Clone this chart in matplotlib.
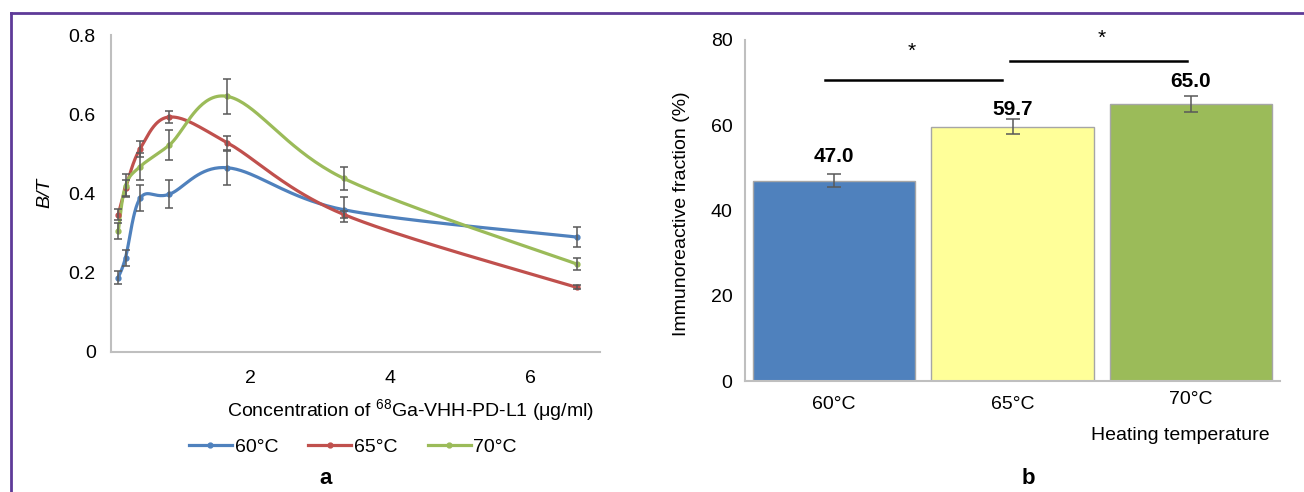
import numpy as np
import matplotlib
matplotlib.use("Agg")
import matplotlib.pyplot as plt
from matplotlib.lines import Line2D

plt.rcParams['font.family'] = ['Liberation Sans', 'DejaVu Sans']
plt.rcParams['mathtext.default'] = 'regular'

# ---------------- data ----------------
# panel a: binding B/T vs concentration, three heating temperatures
conc = [0.104, 0.208, 0.417, 0.833, 1.667, 3.333, 6.667]
bt_60 = [0.188, 0.238, 0.388, 0.398, 0.465, 0.359, 0.290]
err_60 = [0.016, 0.020, 0.033, 0.035, 0.043, 0.031, 0.026]
bt_65 = [0.347, 0.413, 0.513, 0.593, 0.528, 0.347, 0.163]
err_65 = [0.015, 0.020, 0.020, 0.016, 0.017, 0.010, 0.005]
bt_70 = [0.305, 0.420, 0.468, 0.522, 0.645, 0.438, 0.222]
err_70 = [0.021, 0.028, 0.033, 0.037, 0.045, 0.030, 0.016]
series_names = ['60°C', '65°C', '70°C']

# panel b: immunoreactive fraction
temps = ['60°C', '65°C', '70°C']
fraction = [47.0, 59.7, 65.0]
fraction_err = [1.45, 1.8, 1.95]

line_colors = ['#4F81BD', '#C0504D', '#9BBB59']
bar_colors = ['#4F81BD', '#FFFF99', '#9BBB59']
axis_gray = '#BFBFBF'
err_gray = '#595959'
fs = 14


def smooth(x, y, n=40):
    # excel-like smoothed line (catmull-rom as bezier)
    pts = np.column_stack([x, y])
    P = np.vstack([pts[0], pts, pts[-1]])
    out = []
    t = np.linspace(0, 1, n)[:, None]
    for i in range(1, len(P) - 2):
        p0, p1, p2, p3 = P[i - 1], P[i], P[i + 1], P[i + 2]
        c1 = p1 + (p2 - p0) / 6
        c2 = p2 - (p3 - p1) / 6
        seg = (1 - t)**3 * p1 + 3 * (1 - t)**2 * t * c1 + 3 * (1 - t) * t**2 * c2 + t**3 * p2
        out.append(seg)
    s = np.vstack(out)
    return s[:, 0], s[:, 1]


W, H = 1304, 492
fig = plt.figure(figsize=(W / 100, H / 100), dpi=100)

# ---------------- panel a ----------------
ax1 = fig.add_axes([111 / W, 1 - 352 / H, (600 - 111) / W, (352 - 35) / H])
for yv, ev, c in zip([bt_60, bt_65, bt_70], [err_60, err_65, err_70], line_colors):
    sx, sy = smooth(conc, yv)
    ax1.plot(sx, sy, color=c, lw=2.3, zorder=2, solid_capstyle='round')
    ax1.plot(conc, yv, 'o', color=c, ms=3.5, zorder=3)
    ax1.errorbar(conc, yv, yerr=ev, fmt='none', ecolor=err_gray, elinewidth=1.1,
                 capsize=3, capthick=1.1, zorder=4)

ax1.set_xlim(0, 7)
ax1.set_ylim(0, 0.8)
ax1.set_xticks([2, 4, 6])
ax1.set_yticks([0, 0.2, 0.4, 0.6, 0.8])
ax1.set_yticklabels(['0', '0.2', '0.4', '0.6', '0.8'])
for s in ['top', 'right']:
    ax1.spines[s].set_visible(False)
for s in ['left', 'bottom']:
    ax1.spines[s].set_color(axis_gray)
    ax1.spines[s].set_linewidth(1.5)
ax1.tick_params(axis='x', length=0, pad=13, labelsize=fs)
ax1.tick_params(axis='y', length=0, pad=11, labelsize=fs)

fig.text(411 / W, 1 - 410 / H, 'Concentration of $^{68}$Ga-VHH-PD-L1 (μg/ml)',
         ha='center', va='center', fontsize=fs)
fig.text(45 / W, 1 - 193 / H, 'B/T', style='italic', rotation=90,
         ha='center', va='center', fontsize=fs)

handles = [Line2D([], [], color=c, lw=2.3, marker='o', ms=3.5) for c in line_colors]
fig.legend(handles, series_names, loc='center', bbox_to_anchor=(353 / W, 1 - 447 / H),
           ncol=3, frameon=False, fontsize=fs, handlelength=2.2, handletextpad=0.15,
           columnspacing=1.55)
fig.text(326 / W, 1 - 478 / H, 'a', fontweight='bold', ha='center', va='center', fontsize=16)

# ---------------- panel b ----------------
ax2 = fig.add_axes([745 / W, 1 - 381 / H, (1280 - 745) / W, (381 - 40) / H])
xpos = np.arange(len(temps))
ax2.bar(xpos, fraction, width=0.91, color=bar_colors, edgecolor='#A6A6A6', lw=1, zorder=2)
ax2.errorbar(xpos, fraction, yerr=fraction_err, fmt='none', ecolor=err_gray,
             elinewidth=1.1, capsize=5, capthick=1.1, zorder=3)
label_lift = [5.6, 4.1, 5.2]
for x, v, d in zip(xpos, fraction, label_lift):
    ax2.text(x, v + d, f'{v:.1f}', ha='center', va='center', fontweight='bold',
             fontsize=15)

ax2.set_xlim(-0.5, 2.5)
ax2.set_ylim(0, 80)
ax2.set_yticks([0, 20, 40, 60, 80])
ax2.set_xticks(xpos)
ax2.set_xticklabels([])
label_shift = [0, 0, 1.3]
for x, t, d in zip(xpos, temps, label_shift):
    ax2.text(x, -5.6 + d, t, ha='center', va='center', fontsize=fs)
for s in ['top', 'right']:
    ax2.spines[s].set_visible(False)
for s in ['left', 'bottom']:
    ax2.spines[s].set_color(axis_gray)
    ax2.spines[s].set_linewidth(1.5)
ax2.tick_params(axis='x', length=0)
ax2.tick_params(axis='y', length=0, pad=9, labelsize=fs)

# significance brackets
ax2.plot([-0.052, 0.942], [70.6, 70.6], color='black', lw=1.8, clip_on=False)
ax2.plot([0.985, 1.979], [75.0, 75.0], color='black', lw=1.8, clip_on=False)
ax2.text(0.436, 77.4, '*', ha='center', va='center', fontsize=15)
ax2.text(1.498, 80.4, '*', ha='center', va='center', fontsize=15)

fig.text(682 / W, 1 - 214 / H, 'Immunoreactive fraction (%)', rotation=90,
         ha='center', va='center', fontsize=fs)
fig.text(1180 / W, 1 - 435 / H, 'Heating temperature', ha='center', va='center', fontsize=fs)
fig.text(1028 / W, 1 - 478 / H, 'b', fontweight='bold', ha='center', va='center', fontsize=16)

# purple frame
fig.add_artist(Line2D([10.5 / W, 1], [1 - 13 / H, 1 - 13 / H], color='#5E3A98', lw=2,
                      transform=fig.transFigure))
fig.add_artist(Line2D([10.5 / W, 10.5 / W], [0, 1 - 13 / H], color='#5E3A98', lw=2,
                      transform=fig.transFigure))

fig.savefig('out.png', dpi=100)
